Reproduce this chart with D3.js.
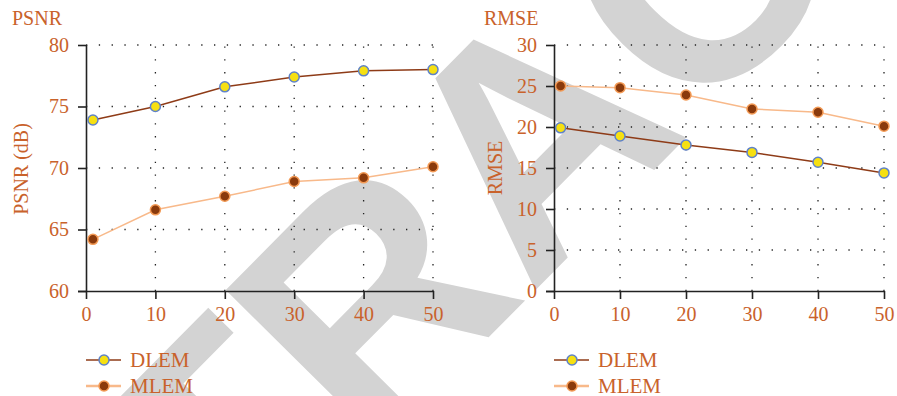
<!DOCTYPE html>
<html lang="en">
<head>
  <meta charset="UTF-8">
  <title>PSNR / RMSE</title>
  <script src="https://d3js.org/d3.v7.min.js"></script>
  <style>
    body { margin: 0; background: #fff; }
    svg text { font-family: "Liberation Serif", "Times New Roman", serif; }
  </style>
</head>
<body>
  <svg width="897" height="396"></svg>
  <script>
    // data
    const xVals = [1, 10, 20, 30, 40, 50];
    const xTicks = [0, 10, 20, 30, 40, 50];
    const psnrDLEM = [73.9, 75.0, 76.6, 77.4, 77.9, 78.0];
    const psnrMLEM = [64.2, 66.6, 67.7, 68.9, 69.2, 70.1];
    const psnrTicks = [60, 65, 70, 75, 80];
    const rmseDLEM = [19.9, 18.9, 17.8, 16.9, 15.7, 14.4];
    const rmseMLEM = [25.0, 24.8, 23.9, 22.2, 21.8, 20.1];
    const rmseTicks = [0, 5, 10, 15, 20, 25, 30];
    const seriesNames = ["DLEM", "MLEM"];

    const textColor = "#c9622b";
    const styles = {
      DLEM: { line: "#8e3b17", fill: "#f6e012", stroke: "#5f82c8" },
      MLEM: { line: "#f8b98a", fill: "#8a3a0c", stroke: "#f39a55" }
    };

    const svg = d3.select("svg");

    // watermark behind the charts (runs off the edges like in the original)
    svg.append("text")
      .attr("transform", "translate(-83,915) rotate(-45.3)")
      .attr("font-weight", "bold")
      .attr("font-size", 320)
      .attr("fill", "#d3d3d3")
      .style("font-family", "Liberation Sans, Arial, sans-serif")
      .text("RETRACTED");

    function panel(o) {
      const x = d3.scaleLinear().domain([0, 50]).range([o.left, o.right]);
      const y = d3.scaleLinear().domain(o.domain).range([291, 45]);
      const g = svg.append("g");

      // dotted grid
      g.selectAll(".hg").data(o.ticks.slice(1)).enter().append("line")
        .attr("x1", o.left).attr("x2", o.right)
        .attr("y1", d => y(d)).attr("y2", d => y(d))
        .attr("stroke", "#222").attr("stroke-width", 1.3)
        .attr("stroke-dasharray", "1.3,11.5");
      g.selectAll(".vg").data(xTicks.slice(1)).enter().append("line")
        .attr("x1", d => x(d)).attr("x2", d => x(d))
        .attr("y1", 291).attr("y2", 45)
        .attr("stroke", "#222").attr("stroke-width", 1.3)
        .attr("stroke-dasharray", "1.3,11.5");

      // axes
      const ax = g.append("g").attr("transform", "translate(0,291)")
        .call(d3.axisBottom(x).tickValues(xTicks).tickSize(8).tickPadding(8));
      const ay = g.append("g").attr("transform", `translate(${o.left},0)`)
        .call(d3.axisLeft(y).tickValues(o.ticks).tickSize(8).tickPadding(9));
      [ax, ay].forEach(a => {
        a.select(".domain").attr("stroke", "#222").attr("stroke-width", 1.6);
        a.selectAll(".tick line").attr("stroke", "#222").attr("stroke-width", 1.6);
        a.selectAll(".tick text").attr("fill", textColor)
          .attr("font-size", 20).attr("font-family", "Liberation Serif, serif");
      });
      ax.select(".domain").attr("d", `M${o.left - 8},0.5H${o.right}`);
      ay.select(".domain").attr("d", `M0.5,45V291`);

      // titles
      g.append("text").attr("x", o.titleX).attr("y", 25)
        .attr("fill", textColor).attr("font-size", 20).text(o.title);
      g.append("text")
        .attr("transform", `translate(${o.labelX},${o.labelY}) rotate(-90)`)
        .attr("text-anchor", "middle").attr("fill", textColor)
        .attr("font-size", 20).text(o.label);

      // series
      const line = d3.line().x((d, i) => x(xVals[i])).y(d => y(d));
      o.series.forEach((vals, k) => {
        const s = styles[seriesNames[k]];
        g.append("path").datum(vals).attr("d", line)
          .attr("fill", "none").attr("stroke", s.line).attr("stroke-width", 1.5);
        g.selectAll(null).data(vals).enter().append("circle")
          .attr("cx", (d, i) => x(xVals[i])).attr("cy", d => y(d)).attr("r", 5)
          .attr("fill", s.fill).attr("stroke", s.stroke).attr("stroke-width", 1.5);
      });

      // legend
      seriesNames.forEach((name, k) => {
        const s = styles[name];
        const ly = 360 + k * 26;
        g.append("line").attr("x1", o.left).attr("x2", o.left + 35)
          .attr("y1", ly).attr("y2", ly)
          .attr("stroke", s.line).attr("stroke-width", k ? 2.5 : 1.5);
        g.append("circle").attr("cx", o.left + 18).attr("cy", ly).attr("r", 5)
          .attr("fill", s.fill).attr("stroke", s.stroke).attr("stroke-width", 1.5);
        g.append("text").attr("x", o.left + 44).attr("y", ly + 6.5)
          .attr("fill", textColor).attr("font-size", 21).text(name);
      });
    }

    panel({
      left: 86, right: 433, domain: [60, 80], ticks: psnrTicks,
      title: "PSNR", titleX: 12, label: "PSNR (dB)", labelX: 28, labelY: 169,
      series: [psnrDLEM, psnrMLEM]
    });
    panel({
      left: 554, right: 884, domain: [0, 30], ticks: rmseTicks,
      title: "RMSE", titleX: 484, label: "RMSE", labelX: 502, labelY: 168,
      series: [rmseDLEM, rmseMLEM]
    });
  </script>
</body>
</html>
